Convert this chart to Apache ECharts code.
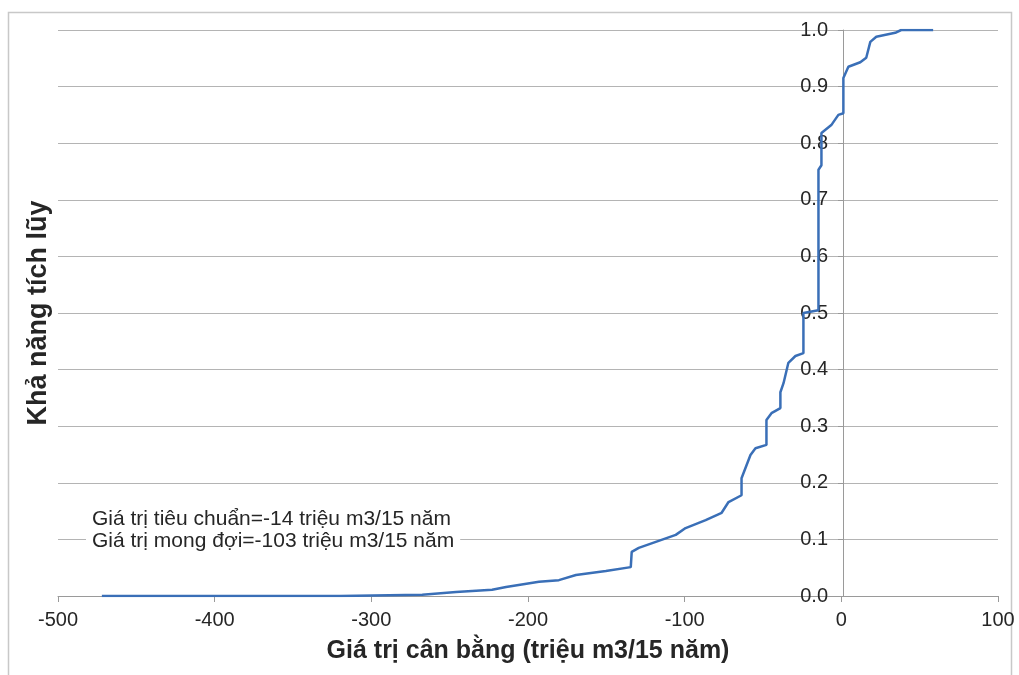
<!DOCTYPE html>
<html>
<head>
<meta charset="utf-8">
<script src="https://cdn.jsdelivr.net/npm/echarts@6/dist/echarts.min.js"></script>
<style>
html,body{margin:0;padding:0;background:#fff;}
#chart{width:1019px;height:675px;}
</style>
</head>
<body>
<div id="chart"></div>
<script>
// Balance value (million m3 / 15 years) and cumulative probability
var balanceValues = [-472, -320, -267.5, -245.9, -222.9, -214, -193, -180.3, -169.4, -150.3, -134.4, -133.8, -129.3, -105.7, -99.4, -86.6, -76.4, -72, -63.7, -63.7, -58, -54.8, -47.8, -47.8, -44.6, -38.9, -38.9, -36.9, -33.8, -29.3, -24.2, -24.2, -14.6, -14.6, -12.7, -12.7, -6.4, -1.9, 1.3, 1.3, 4.5, 12.1, 15.9, 18.5, 22.3, 34.4, 38.2, 58.6];
var cumulativeProb = [0.000, 0.000, 0.002, 0.007, 0.011, 0.016, 0.025, 0.028, 0.037, 0.044, 0.051, 0.078, 0.085, 0.108, 0.120, 0.134, 0.147, 0.166, 0.178, 0.208, 0.249, 0.261, 0.267, 0.311, 0.323, 0.332, 0.360, 0.376, 0.412, 0.424, 0.429, 0.500, 0.505, 0.753, 0.761, 0.818, 0.832, 0.850, 0.853, 0.915, 0.935, 0.943, 0.951, 0.979, 0.988, 0.995, 1.000, 1.000];
var xTicks = [-500, -400, -300, -200, -100, 0, 100];
var yTicks = [0, 0.1, 0.2, 0.3, 0.4, 0.5, 0.6, 0.7, 0.8, 0.9, 1.0];
var annotationLines = ['Giá trị tiêu chuẩn=-14 triệu m3/15 năm', 'Giá trị mong đợi=-103 triệu m3/15 năm'];
var xTitle = 'Giá trị cân bằng (triệu m3/15 năm)';
var yTitle = 'Khả năng tích lũy';

var seriesData = balanceValues.map(function (v, i) { return [v, cumulativeProb[i]]; });
var font = '"Liberation Sans", Arial, sans-serif';

var chart = echarts.init(document.getElementById('chart'), null, {renderer: 'canvas'});
chart.setOption({
  backgroundColor: '#fff',
  animation: false,
  grid: {left: 58, right: 21, top: 30, bottom: 79, containLabel: false, outerBoundsMode: 'none'},
  xAxis: {
    type: 'value',
    min: xTicks[0], max: xTicks[xTicks.length - 1], interval: 100,
    name: xTitle, nameLocation: 'middle', nameGap: 43, nameMoveOverlap: false,
    nameTextStyle: {fontFamily: font, fontSize: 25, fontWeight: 'bold', color: '#262626'},
    axisLine: {show: true, onZero: false, lineStyle: {color: '#9a9a9a', width: 1}},
    axisTick: {show: true, length: 6, lineStyle: {color: '#9a9a9a'}},
    axisLabel: {fontFamily: font, fontSize: 20, color: '#262626', margin: 14},
    splitLine: {show: false}
  },
  yAxis: {
    type: 'value',
    position: 'left',
    offset: -785,
    min: yTicks[0], max: yTicks[yTicks.length - 1], interval: 0.1,
    name: yTitle, nameLocation: 'middle', nameGap: 791, nameRotate: 90, nameMoveOverlap: false,
    nameTextStyle: {fontFamily: font, fontSize: 27, fontWeight: 'bold', color: '#262626'},
    axisLine: {show: true, onZero: false, lineStyle: {color: '#9a9a9a', width: 1}},
    axisTick: {show: true, length: 5, lineStyle: {color: '#9a9a9a'}},
    axisLabel: {fontFamily: font, fontSize: 20, color: '#262626', margin: 15,
      formatter: function (v) { return v.toFixed(1); }},
    splitLine: {show: true, lineStyle: {color: '#b4b4b4', width: 1}}
  },
  graphic: [
    {type: 'rect', z: -10, silent: true,
     shape: {x: 8.5, y: 12.5, width: 1003, height: 680},
     style: {fill: 'none', stroke: '#c8c8c8', lineWidth: 1.5}},
    {type: 'text', left: 86, top: 508, z: 10,
     style: {text: annotationLines.join('\n'), fontFamily: font, fontSize: 21, lineHeight: 22,
       fill: '#262626', backgroundColor: '#fff', padding: [0, 6, 0, 6]}}
  ],
  series: [{
    type: 'line',
    data: seriesData,
    showSymbol: false,
    symbol: 'none',
    lineStyle: {color: '#3a6fb7', width: 2.5},
    z: 5
  }]
});
</script>
</body>
</html>
